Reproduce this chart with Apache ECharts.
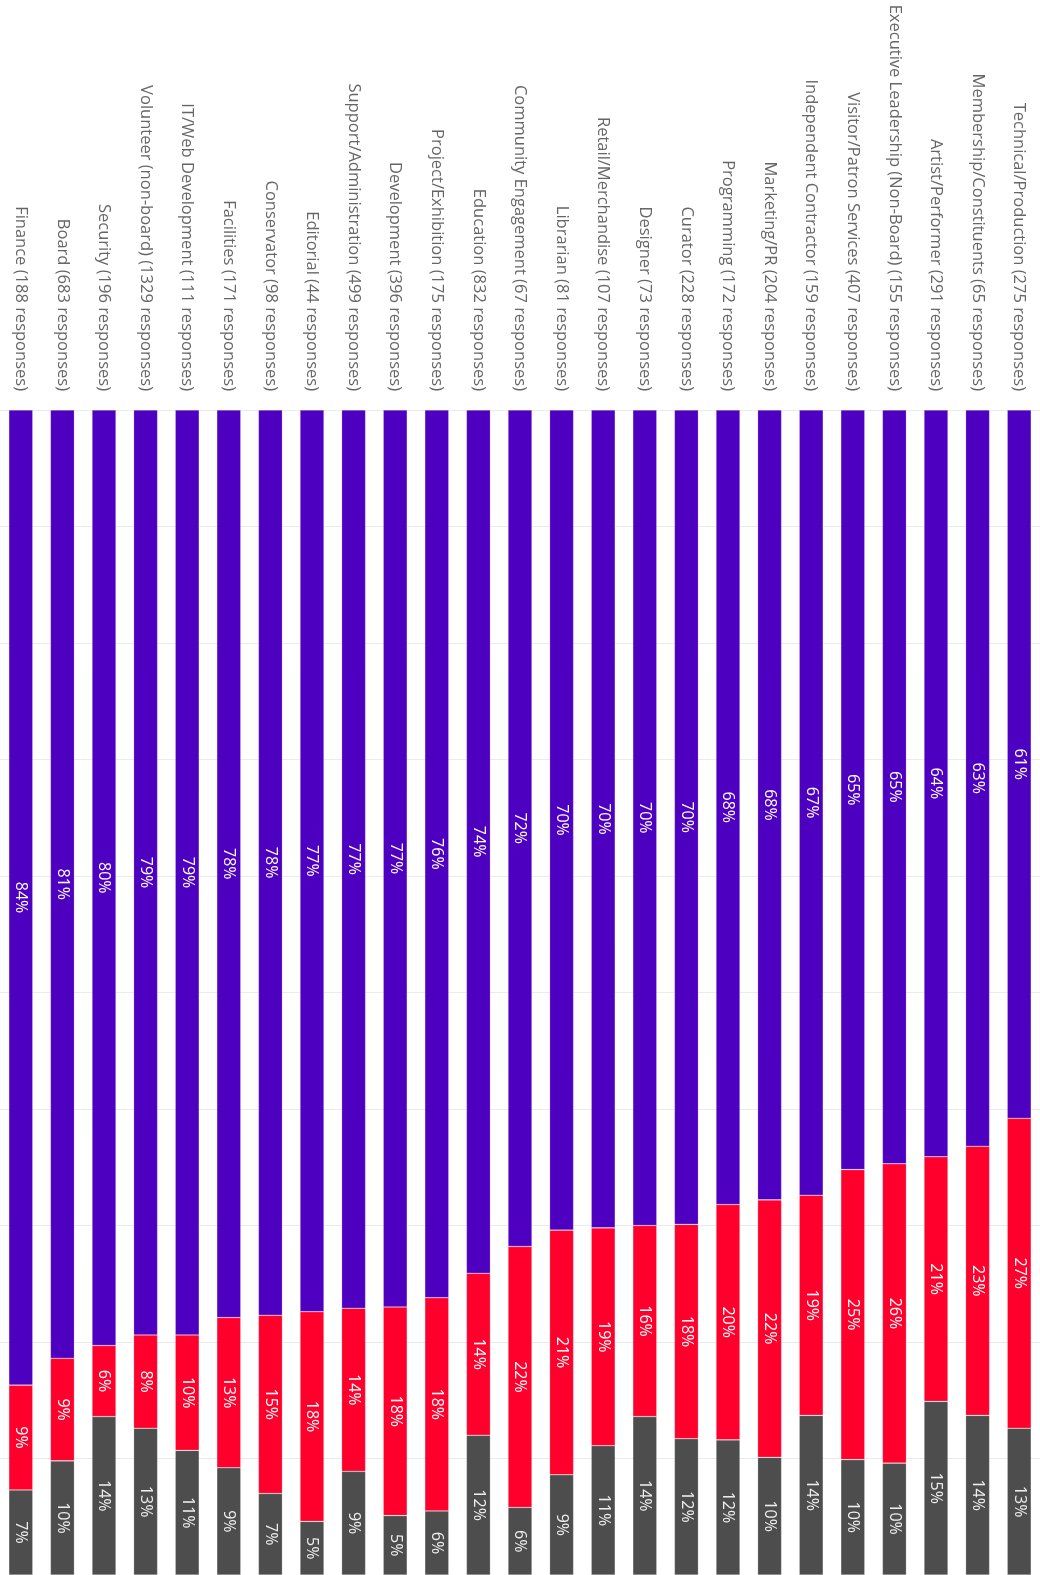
<!DOCTYPE html>
<html>
<head>
<meta charset="utf-8">
<script src="https://cdn.jsdelivr.net/npm/echarts@6/dist/echarts.min.js"></script>
<style>
html,body{margin:0;padding:0;background:#fff;}
#chart{width:1040px;height:1575px;}
</style>
</head>
<body>
<div id="chart"></div>
<script>
const categories = [
  "Finance (188 responses)",
  "Board (683 responses)",
  "Security (196 responses)",
  "Volunteer (non-board) (1329 responses)",
  "IT/Web Development (111 responses)",
  "Facilities (171 responses)",
  "Conservator (98 responses)",
  "Editorial (44 responses)",
  "Support/Administration (499 responses)",
  "Development (396 responses)",
  "Project/Exhibition (175 responses)",
  "Education (832 responses)",
  "Community Engagement (67 responses)",
  "Librarian (81 responses)",
  "Retail/Merchandise (107 responses)",
  "Designer (73 responses)",
  "Curator (228 responses)",
  "Programming (172 responses)",
  "Marketing/PR (204 responses)",
  "Independent Contractor (159 responses)",
  "Visitor/Patron Services (407 responses)",
  "Executive Leadership (Non-Board) (155 responses)",
  "Artist/Performer (291 responses)",
  "Membership/Constituents (65 responses)",
  "Technical/Production (275 responses)"
];
const purpleValues = [83.7, 81.4, 80.3, 79.4, 79.4, 77.9, 77.7, 77.4, 77.1, 77.0, 76.2, 74.1, 71.8, 70.4, 70.2, 70.0, 69.9, 68.2, 67.8, 67.4, 65.2, 64.7, 64.1, 63.2, 60.8];
const redValues = [9.0, 8.8, 6.1, 8.0, 9.9, 12.9, 15.3, 18.0, 14.0, 17.9, 18.3, 13.9, 22.4, 21.0, 18.7, 16.4, 18.4, 20.2, 22.1, 18.9, 24.9, 25.7, 21.0, 23.1, 26.6];
const grayValues = [7.3, 9.8, 13.6, 12.6, 10.7, 9.2, 7.0, 4.6, 8.9, 5.1, 5.5, 12.0, 5.8, 8.6, 11.1, 13.6, 11.7, 11.6, 10.1, 13.7, 9.9, 9.6, 14.9, 13.7, 12.6];

const chart = echarts.init(document.getElementById('chart'), null, {renderer: 'canvas'});
const FONT = "'Open Sans', 'Noto Sans', sans-serif";
function mk(name, data, color, labelColor) {
  return {
    name: name,
    type: 'bar',
    stack: 'total',
    data: data,
    barWidth: 24,
    itemStyle: {color: color, borderColor: 'rgba(255,255,255,0.35)', borderWidth: 0.6},
    label: {
      show: true,
      position: 'inside',
      rotate: -90,
      color: labelColor,
      fontSize: 16,
      fontFamily: FONT,
      formatter: p => Math.round(p.value) + '%'
    },
    emphasis: {disabled: true},
    animation: false
  };
}
chart.setOption({
  animation: false,
  grid: {left: -2, right: 0, top: 410, bottom: 0, containLabel: false},
  xAxis: {
    type: 'category',
    position: 'top',
    data: categories,
    axisLine: {show: false},
    axisTick: {show: false},
    axisLabel: {
      interval: 0,
      rotate: -90,
      color: '#666',
      fontSize: 16.5,
      fontFamily: FONT,
      margin: 19
    }
  },
  yAxis: {
    type: 'value',
    inverse: true,
    min: 0,
    max: 100,
    interval: 10,
    axisLabel: {show: false},
    axisLine: {show: false},
    axisTick: {show: false},
    splitLine: {show: true, lineStyle: {color: '#ebebeb', width: 1}}
  },
  series: [
    mk('Purple', purpleValues, '#4e00c0', '#ffffff'),
    mk('Red', redValues, '#ff002c', '#ffffff'),
    mk('Gray', grayValues, '#4d4d4d', '#eeeeee')
  ]
});
</script>
</body>
</html>
